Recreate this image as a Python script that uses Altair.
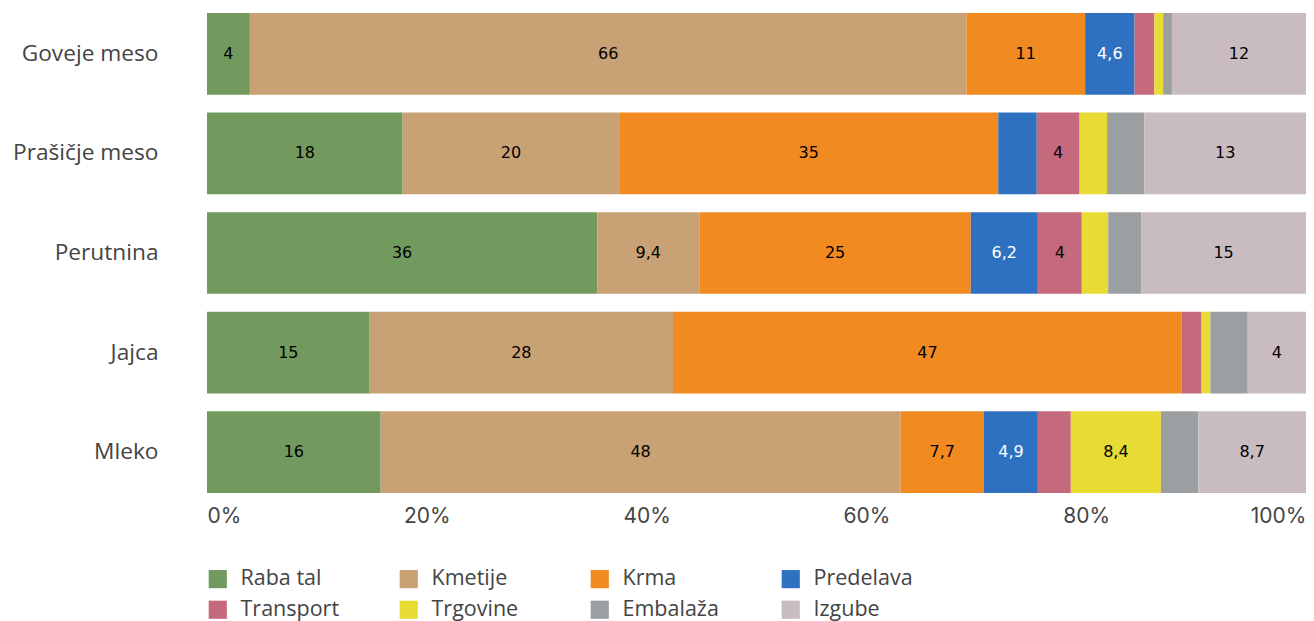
import altair as alt
import pandas as pd

categories = ["Goveje meso", "Prašičje meso", "Perutnina", "Jajca", "Mleko"]
segments = ["Raba tal", "Kmetije", "Krma", "Predelava", "Transport", "Trgovine", "Embalaža", "Izgube"]
colors = ["#739A5E", "#C8A175", "#F28A22", "#2F71C1", "#C5697D", "#E8DB34", "#9C9FA2", "#C9BCC0"]

goveje_meso = [3.9, 65.2, 10.8, 4.5, 1.8, 0.8, 0.8, 12.2]
prasicje_meso = [17.8, 19.7, 34.5, 3.5, 3.9, 2.5, 3.4, 14.7]
perutnina = [35.5, 9.3, 24.7, 6.1, 4.0, 2.4, 3.0, 15.0]
jajca = [14.8, 27.6, 46.3, 0.0, 1.8, 0.8, 3.4, 5.3]
mleko = [15.8, 47.3, 7.6, 4.9, 3.0, 8.2, 3.4, 9.8]

goveje_labels = ["4", "66", "11", "4,6", "", "", "", "12"]
prasicje_labels = ["18", "20", "35", "", "4", "", "", "13"]
perutnina_labels = ["36", "9,4", "25", "6,2", "4", "", "", "15"]
jajca_labels = ["15", "28", "47", "", "", "", "", "4"]
mleko_labels = ["16", "48", "7,7", "4,9", "", "8,4", "", "8,7"]

series = [goveje_meso, prasicje_meso, perutnina, jajca, mleko]
labels = [goveje_labels, prasicje_labels, perutnina_labels, jajca_labels, mleko_labels]

rows = []
for cat, vals, labs in zip(categories, series, labels):
    for i, (seg, v, lab) in enumerate(zip(segments, vals, labs)):
        rows.append({"cat": cat, "seg": seg, "order": i, "value": v, "label": lab})
df = pd.DataFrame(rows)

base = alt.Chart(df).transform_stack(
    stack="value",
    as_=["v0", "v1"],
    groupby=["cat"],
    sort=[alt.SortField("order", order="ascending")],
    offset="normalize",
).transform_calculate(mid="(datum.v0 + datum.v1) / 2")

y_enc = alt.Y(
    "cat:N",
    sort=categories,
    title=None,
    scale=alt.Scale(paddingInner=0.18, paddingOuter=0),
    axis=alt.Axis(
        labelFont="Open Sans",
        labelFontSize=22.7,
        labelColor="#444444",
        labelPadding=49,
        ticks=False,
        domain=False,
        minExtent=199,
        maxExtent=199,
    ),
)

bars = base.mark_bar().encode(
    x=alt.X(
        "v0:Q",
        title=None,
        scale=alt.Scale(domain=[0, 1], nice=False),
        axis=alt.Axis(
            format="%",
            values=[0, 0.2, 0.4, 0.6, 0.8, 1.0],
            labelFont="Inter",
            labelFontSize=21,
            labelColor="#444444",
            labelPadding=12,
            labelFlush=True,
            ticks=False,
            domain=False,
            grid=False,
        ),
    ),
    x2="v1:Q",
    y=y_enc,
    color=alt.Color(
        "seg:N",
        sort=segments,
        scale=alt.Scale(domain=segments, range=colors),
        legend=alt.Legend(
            title=None,
            orient="none",
            legendX=0,
            legendY=555,
            direction="horizontal",
            columns=4,
            symbolType="square",
            symbolSize=330,
            symbolStrokeWidth=0,
            labelFont="Open Sans",
            labelFontSize=21.5,
            labelColor="#444444",
            labelOffset=12,
            columnPadding=58,
            rowPadding=8,
            gridAlign="all",
        ),
    ),
    order=alt.Order("order:Q"),
)

text = base.mark_text(font="DejaVu Sans", fontSize=16).encode(
    x=alt.X("mid:Q"),
    y=alt.Y("cat:N", sort=categories),
    text="label:N",
    color=alt.condition(alt.datum.seg == "Predelava", alt.value("white"), alt.value("black")),
)

chart = (
    alt.layer(bars, text)
    .properties(width=1099, height=480, padding={"left": 0, "top": 5, "right": 0, "bottom": 0})
    .configure_view(stroke=None)
)

chart.save("out.html", embed_options={"renderer": "svg", "actions": False})
